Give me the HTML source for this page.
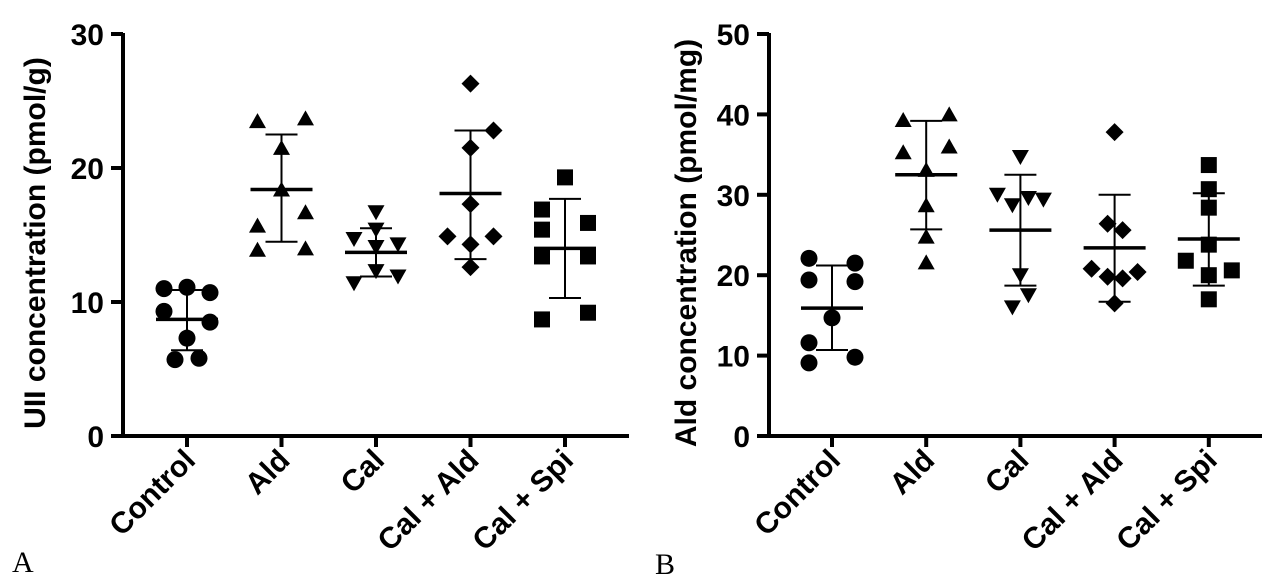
<!DOCTYPE html>
<html><head><meta charset="utf-8"><style>
body{margin:0;background:#fff;}
svg text{font-family:"Liberation Sans",Arial,sans-serif;}
</style></head><body>
<svg id="chart" width="1279" height="581" viewBox="0 0 1279 581" xmlns="http://www.w3.org/2000/svg">
<text x="12" y="572" font-size="30" style="font-family:'Liberation Serif',serif">A</text>
<text x="655" y="574" font-size="30" style="font-family:'Liberation Serif',serif">B</text>
</svg>
<script>
const categories = ["Control","Ald","Cal","Cal + Ald","Cal + Spi"];
const shapes = ["circle","triangle","invtriangle","diamond","square"];
// Panel A (UII)
const aTicks = [0,10,20,30];
const aValues = [
 [11.0,11.1,10.7,9.3,8.5,7.3,5.7,5.8],
 [23.5,23.7,21.5,18.4,16.7,15.7,13.9,14.0],
 [16.7,15.4,14.7,14.3,14.1,12.3,11.4,11.9],
 [26.3,22.8,21.5,17.3,14.9,14.9,14.3,12.6],
 [19.3,16.9,15.4,15.9,13.4,13.4,8.7,9.2]
];
const aMeans = [8.7,18.4,13.7,18.1,14.0];
const aSDHigh = [10.9,22.5,15.5,22.8,17.7];
const aSDLow = [6.4,14.5,11.9,13.2,10.3];
// Panel B (Ald)
const bTicks = [0,10,20,30,40,50];
const bValues = [
 [22.1,21.5,19.4,19.2,14.7,11.6,9.8,9.1],
 [39.3,40.0,35.3,36.0,33.1,28.7,24.8,21.6],
 [34.7,30.0,28.7,29.6,29.4,20.0,17.5,16.0],
 [37.8,26.4,25.6,20.8,19.8,19.6,20.4,16.5],
 [33.7,30.7,28.4,23.8,21.8,20.6,20.0,17.0]
];
const bMeans = [15.9,32.5,25.6,23.4,24.5];
const bSDHigh = [21.2,39.2,32.5,30.0,30.2];
const bSDLow = [10.7,25.7,18.7,16.7,18.7];

// jitter offsets (layout, px)
const aJit = [[-23,0,23,-23,23,0,-12,12],[-24,24,0,0,24,-24,-24,24],[0,0,-22,22,0,0,-22,22],[0,23,0,0,-23,23,0,0],[0,-23,-23,23,-23,23,-23,23]];
const bJit = [[-23,23,-23,23,0,-23,23,-23],[-23,23,-23,23,0,0,0,0],[0,-23,-8,8,23,0,8,-8],[0,-7,8,-23,-7,8,23,0],[0,0,0,0,-23,23,0,0]];

const NS="http://www.w3.org/2000/svg";
const svg=document.getElementById('chart');
function mk(tag,attrs,parent){const e=document.createElementNS(NS,tag);for(const k in attrs)e.setAttribute(k,attrs[k]);(parent||svg).appendChild(e);return e;}

function drawPanel(p){
  const g=mk('g',{});
  
  
  const y=v=>p.y0-(v-p.min)/(p.max-p.min)*(p.y0-p.y1);
  const x=i=>p.x0+p.first+i*p.step;
  const ax=mk('path',{d:`M${p.x0},${p.y1-1}V${p.y0}H${p.xEnd}`,stroke:'#000','stroke-width':4,fill:'none'},g);
  
  
  p.ticks.forEach(t=>{
    mk('line',{x1:p.x0-12,x2:p.x0,y1:y(t),y2:y(t),stroke:'#000','stroke-width':4},g);
    const tl=mk('text',{x:p.x0-19,y:y(t)+11,'text-anchor':'end','font-size':30,'font-weight':'bold'},g);
    tl.textContent=t;
    
    
  });
  const yt=mk('text',{transform:`translate(${p.titleX},${(p.y0+p.y1)/2+8}) rotate(-90)`,'text-anchor':'middle','font-size':30,'font-weight':'bold'},g);
  yt.textContent=p.title;
  
  
  categories.forEach((c,i)=>{
    const cx=x(i);
    mk('line',{x1:cx,x2:cx,y1:p.y0,y2:p.y0+11,stroke:'#000','stroke-width':4},g);
    const xl=mk('text',{transform:`translate(${cx+10},${p.y0+26}) rotate(-45)`,'text-anchor':'end','font-size':30,'font-weight':'bold'},g);
    xl.textContent=c;
    
    
    p.values[i].forEach((v,j)=>{
      const mx=cx+p.jit[i][j], my=y(v); let m;
      const s=shapes[i];
      if(s==='circle') m=mk('circle',{cx:mx,cy:my,r:8.5},g);
      else if(s==='triangle') m=mk('path',{d:`M${mx},${my-8}L${mx+8.5},${my+7}L${mx-8.5},${my+7}Z`},g);
      else if(s==='invtriangle') m=mk('path',{d:`M${mx},${my+8}L${mx+8.5},${my-7}L${mx-8.5},${my-7}Z`},g);
      else if(s==='diamond') m=mk('path',{d:`M${mx},${my-9}L${mx+9},${my}L${mx},${my+9}L${mx-9},${my}Z`},g);
      else m=mk('rect',{x:mx-8,y:my-8,width:16,height:16},g);
      m.setAttribute('fill','#000');
      
      
    });
    const eb=mk('path',{d:`M${cx},${y(p.sdH[i])}V${y(p.sdL[i])}M${cx-16},${y(p.sdH[i])}H${cx+16}M${cx-16},${y(p.sdL[i])}H${cx+16}`,stroke:'#000','stroke-width':2,fill:'none'},g);
    
    
    const ml=mk('line',{x1:cx-31,x2:cx+31,y1:y(p.means[i]),y2:y(p.means[i]),stroke:'#000','stroke-width':3.5},g);
    
    
  });
}
drawPanel({name:'panel-a',x0:123,xEnd:629,y0:436,y1:34,min:0,max:30,first:64,step:94.5,ticks:aTicks,values:aValues,means:aMeans,sdH:aSDHigh,sdL:aSDLow,jit:aJit,title:'UII concentration (pmol/g)',titleX:45});
drawPanel({name:'panel-b',x0:769,xEnd:1262,y0:436,y1:34,min:0,max:50,first:63,step:94.2,ticks:bTicks,values:bValues,means:bMeans,sdH:bSDHigh,sdL:bSDLow,jit:bJit,title:'Ald concentration (pmol/mg)',titleX:696});
</script>
</body></html>
